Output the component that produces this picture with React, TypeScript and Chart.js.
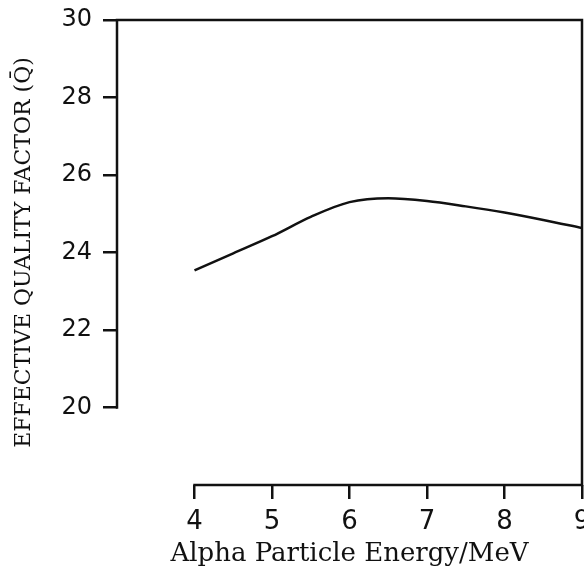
import React, { useEffect, useRef } from "react";
import { Chart, registerables } from "chart.js";

Chart.register(...registerables);

const energies = [4, 4.5, 5, 5.5, 6, 6.5, 7, 7.5, 8, 8.5, 9];
const qualityFactor = [23.54, 23.98, 24.42, 24.92, 25.3, 25.4, 25.33, 25.19, 25.03, 24.84, 24.63];
const xTickValues = [4, 5, 6, 7, 8, 9];
const yTickValues = [20, 22, 24, 26, 28, 30];
const xTitle = "Alpha Particle Energy/MeV";
const yTitle = "EFFECTIVE QUALITY FACTOR (Q\u0304)";

const INK = "#111111";

const axesPlugin = {
  id: "offsetAxes",
  afterDraw(chart: any) {
    const { ctx, chartArea, scales } = chart;
    const x = scales.x;
    const y = scales.y;
    ctx.save();
    ctx.strokeStyle = INK;
    ctx.lineWidth = 2.5;
    ctx.lineCap = "square";
    ctx.beginPath();
    // y axis (20..30)
    ctx.moveTo(chartArea.left, y.getPixelForValue(yTickValues[yTickValues.length - 1]));
    ctx.lineTo(chartArea.left, y.getPixelForValue(yTickValues[0]));
    // top border
    ctx.moveTo(chartArea.left, chartArea.top);
    ctx.lineTo(chartArea.right, chartArea.top);
    // right border
    ctx.moveTo(chartArea.right, chartArea.top);
    ctx.lineTo(chartArea.right, chartArea.bottom);
    // x axis (4..9)
    ctx.moveTo(x.getPixelForValue(xTickValues[0]), chartArea.bottom);
    ctx.lineTo(chartArea.right, chartArea.bottom);
    ctx.stroke();
    ctx.restore();
  },
};

export default function App() {
  const ref = useRef<HTMLCanvasElement | null>(null);

  useEffect(() => {
    if (!ref.current) return;
    const chart = new Chart(ref.current, {
      type: "line",
      data: {
        datasets: [
          {
            data: energies.map((e, i) => ({ x: e, y: qualityFactor[i] })),
            borderColor: INK,
            borderWidth: 2.5,
            pointRadius: 0,
            cubicInterpolationMode: "monotone",
            fill: false,
          },
        ],
      },
      options: {
        responsive: false,
        animation: false,
        layout: { padding: { left: 0, right: 18, top: 20, bottom: 0 } },
        plugins: { legend: { display: false }, tooltip: { enabled: false } },
        scales: {
          x: {
            type: "linear",
            min: 3,
            max: 9,
            afterBuildTicks: (s: any) => {
              s.ticks = [3, ...xTickValues].map((v) => ({ value: v }));
            },
            afterFit: (s: any) => {
              s.height = 85;
              s.paddingLeft = 0;
              s.paddingRight = 0;
            },
            border: { display: false },
            grid: {
              drawOnChartArea: false,
              drawTicks: true,
              tickLength: 14,
              lineWidth: 2.5,
              color: (c: any) => (c.tick && c.tick.value >= xTickValues[0] ? INK : "rgba(0,0,0,0)"),
            },
            ticks: {
              autoSkip: false,
              maxRotation: 0,
              padding: 8,
              color: INK,
              font: { family: "DejaVu Sans", size: 26 },
              callback: (v: any) => (xTickValues.includes(Number(v)) ? String(v) : ""),
            },
            title: {
              display: true,
              text: xTitle,
              color: INK,
              font: { family: "DejaVu Serif", size: 26 },
              padding: { top: 0, bottom: 0 },
            },
          },
          y: {
            type: "linear",
            min: 18,
            max: 30,
            afterBuildTicks: (s: any) => {
              s.ticks = [18, ...yTickValues].map((v) => ({ value: v }));
            },
            afterFit: (s: any) => {
              s.width = 117;
              s.paddingTop = 0;
              s.paddingBottom = 0;
            },
            border: { display: false },
            grid: {
              drawOnChartArea: false,
              drawTicks: true,
              tickLength: 14,
              lineWidth: 2.5,
              color: (c: any) => (c.tick && c.tick.value >= yTickValues[0] ? INK : "rgba(0,0,0,0)"),
            },
            ticks: {
              autoSkip: false,
              padding: 11,
              color: INK,
              font: { family: "DejaVu Sans", size: 24 },
              callback: (v: any) => (yTickValues.includes(Number(v)) ? String(v) : ""),
            },
            title: {
              display: true,
              text: yTitle,
              color: INK,
              font: { family: "DejaVu Serif", size: 22 },
              padding: { top: 11, bottom: 0 },
            },
          },
        },
      },
      plugins: [axesPlugin],
    });
    return () => chart.destroy();
  }, []);

  return (
    <div
      style={{
        position: "absolute",
        left: 0,
        top: 0,
        width: 584,
        height: 570,
        overflow: "hidden",
        background: "#fff",
      }}
    >
      <canvas ref={ref} width={600} height={570} style={{ width: 600, height: 570, display: "block" }} />
    </div>
  );
}
